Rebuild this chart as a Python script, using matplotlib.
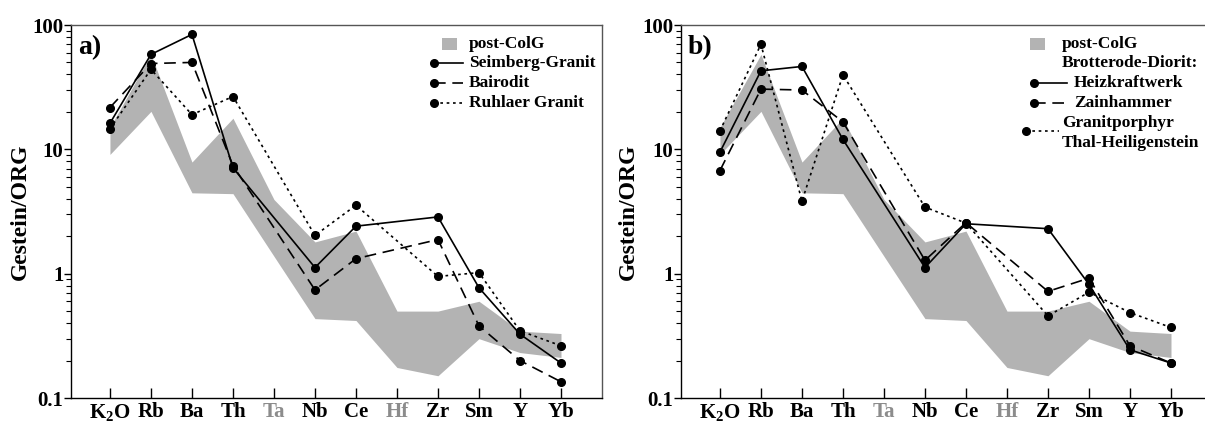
import matplotlib
matplotlib.use("Agg")
import matplotlib.pyplot as plt
import numpy as np

plt.rcParams['font.family'] = ['Liberation Serif', 'DejaVu Serif']
plt.rcParams['font.weight'] = 'bold'
plt.rcParams['axes.labelweight'] = 'bold'
plt.rcParams['mathtext.fontset'] = 'custom'
plt.rcParams['mathtext.rm'] = 'Liberation Serif:bold'
plt.rcParams['mathtext.bf'] = 'Liberation Serif:bold'
plt.rcParams['mathtext.it'] = 'Liberation Serif:bold'

elements = [r'$\mathbf{K_2O}$', 'Rb', 'Ba', 'Th', 'Ta', 'Nb', 'Ce', 'Hf', 'Zr', 'Sm', 'Y', 'Yb']
grey_labels = ['Ta', 'Hf']

# post-ColG field (all 12 elements)
band_upper = [15, 58, 7.9, 17.8, 3.95, 1.8, 2.2, 0.5, 0.5, 0.6, 0.345, 0.33]
band_lower = [9.1, 20.2, 4.47, 4.4, 1.38, 0.435, 0.42, 0.176, 0.151, 0.30, 0.232, 0.212]

# samples have no Ta and Hf values
sample_idx = [0, 1, 2, 3, 5, 6, 8, 9, 10, 11]

seimberg = [16.2, 58, 84, 7.1, 1.12, 2.41, 2.86, 0.77, 0.326, 0.191]
bairodit = [21.7, 49, 50, 7.4, 0.74, 1.32, 1.88, 0.38, 0.20, 0.135]
ruhlaer = [14.6, 44, 19, 26.6, 2.03, 3.55, 0.95, 1.02, 0.347, 0.263]

heizkraftwerk = [9.5, 42.8, 46.4, 12.0, 1.12, 2.52, 2.3, 0.82, 0.244, 0.191]
zainhammer = [6.75, 30.5, 30.0, 16.6, 1.28, 2.57, 0.72, 0.92, 0.263, 0.191]
granitporphyr = [14.1, 70, 3.83, 39.7, 3.43, 2.55, 0.457, 0.71, 0.486, 0.369]

SOLID = dict(ls='-')
DASH = dict(dashes=(7, 4))
DOT = dict(dashes=(1.6, 2.2))

W, H = 1205, 423
fig = plt.figure(figsize=(W / 100, H / 100), dpi=100)

AX_W, AX_H = 531, 373
AX_BOTTOM = 398


def make_axes(left):
    ax = fig.add_axes([left / W, (H - AX_BOTTOM) / H, AX_W / W, AX_H / H])
    return ax


def px(ax_left, x, y):
    return (x - ax_left) / AX_W, (AX_BOTTOM - y) / AX_H


def draw_panel(ax, ax_left, series, letter, ylab_right):
    x = np.arange(len(elements))
    ax.fill_between(x, band_lower, band_upper, color='#b3b3b3', lw=0, zorder=1)
    xs = np.array(sample_idx)
    for vals, style in series:
        ax.plot(xs, vals, color='black', lw=1.2, marker='o', ms=5.5,
                zorder=3, **style)
    ax.set_yscale('log')
    ax.set_ylim(0.1, 100)
    ax.set_xlim(-0.95, 12.0)
    ax.set_xticks(x)
    ax.set_xticklabels(elements, fontsize=15, fontweight='bold')
    for lab in ax.get_xticklabels():
        if lab.get_text() in grey_labels:
            lab.set_color('#8c8c8c')
    ax.set_yticks([0.1, 1, 10, 100])
    ax.set_yticklabels(['0.1', '1', '10', '100'], fontsize=15, fontweight='bold')
    ax.tick_params(axis='x', direction='in', length=7, width=1, pad=3)
    ax.tick_params(axis='y', which='major', direction='out', length=5, width=1, pad=0.5)
    ax.tick_params(axis='y', which='minor', direction='out', length=3.5, width=0.8)
    ax.set_ylabel('Gestein/ORG', fontsize=17, fontweight='bold')
    ax.yaxis.set_label_coords((ylab_right - ax_left) / AX_W, 0.5)
    for s in ['left', 'bottom']:
        ax.spines[s].set_linewidth(1.0)
    for s in ['top', 'right']:
        ax.spines[s].set_color('#555555')
        ax.spines[s].set_linewidth(1.0)
    tx, ty = px(ax_left, ax_left + 7, 35)
    ax.text(tx, ty, letter, transform=ax.transAxes, fontsize=20,
            fontweight='bold', va='top', ha='left')


def legend_patch(ax, ax_left, x0, x1, yc, label, tx):
    a0, b0 = px(ax_left, x0, yc + 6)
    a1, b1 = px(ax_left, x1, yc - 6)
    ax.add_patch(plt.Rectangle((a0, b0), a1 - a0, b1 - b0, transform=ax.transAxes,
                               color='#b3b3b3', lw=0, clip_on=False))
    t0, t1 = px(ax_left, tx, yc)
    ax.text(t0, t1, label, transform=ax.transAxes, fontsize=12.5,
            fontweight='bold', va='center', ha='left')


def legend_line(ax, ax_left, x0, x1, yc, style):
    a0, b = px(ax_left, x0, yc)
    a1, _ = px(ax_left, x1, yc)
    ax.plot([a0, a1], [b, b], transform=ax.transAxes, color='black', lw=1.2,
            clip_on=False, **style)
    ax.plot([a0], [b], transform=ax.transAxes, color='black', marker='o', ms=5.5,
            clip_on=False)


def legend_text(ax, ax_left, x, y, label):
    a, b = px(ax_left, x, y)
    ax.text(a, b, label, transform=ax.transAxes, fontsize=12.5,
            fontweight='bold', va='center', ha='left')


# panel a
LA = 71
ax1 = make_axes(LA)
draw_panel(ax1, LA, [(seimberg, SOLID), (bairodit, DASH), (ruhlaer, DOT)], 'a)', 31)
legend_patch(ax1, LA, 442, 457, 44, 'post-ColG', 469)
for yy, lab, st in [(63, 'Seimberg-Granit', SOLID), (83, 'Bairodit', DASH),
                    (103, 'Ruhlaer Granit', DOT)]:
    legend_line(ax1, LA, 434, 463, yy, st)
    legend_text(ax1, LA, 469, yy, lab)

# panel b
LB = 681
ax2 = make_axes(LB)
draw_panel(ax2, LB, [(heizkraftwerk, SOLID), (zainhammer, DASH), (granitporphyr, DOT)], 'b)', 639)
legend_patch(ax2, LB, 1030, 1045, 44, 'post-ColG', 1062)
legend_text(ax2, LB, 1062, 63, 'Brotterode-Diorit:')
legend_line(ax2, LB, 1034, 1067, 83, SOLID)
legend_text(ax2, LB, 1074, 83, 'Heizkraftwerk')
legend_line(ax2, LB, 1034, 1067, 103, DASH)
legend_text(ax2, LB, 1074, 103, 'Zainhammer')
legend_line(ax2, LB, 1026, 1059, 131, DOT)
legend_text(ax2, LB, 1062, 123, 'Granitporphyr')
legend_text(ax2, LB, 1062, 143, 'Thal-Heiligenstein')

fig.savefig('out.png', dpi=100)
